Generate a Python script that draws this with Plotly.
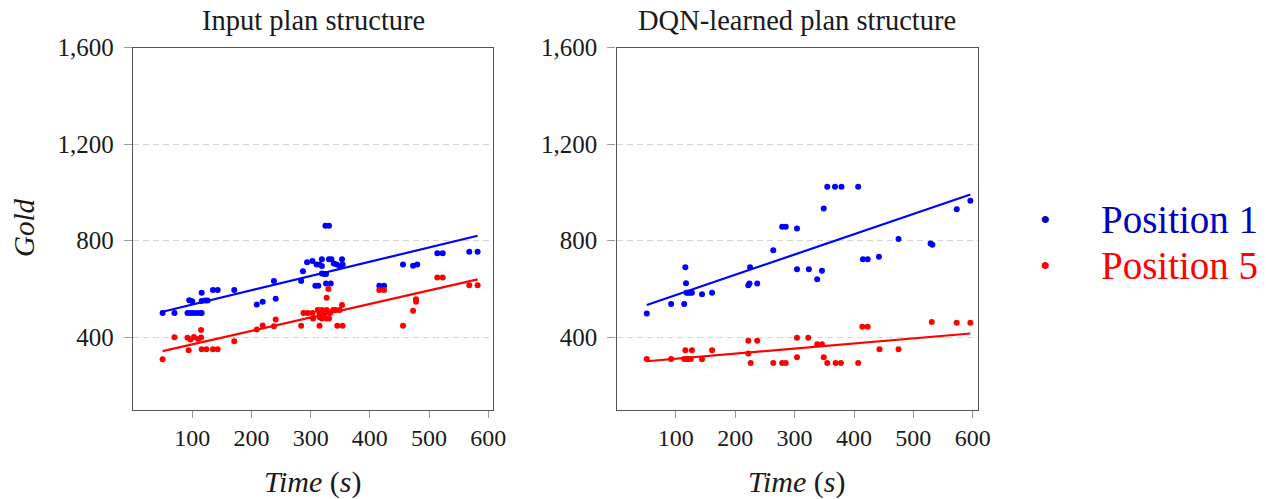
import plotly.graph_objects as go

# ---------------- data ----------------
# Left panel: Input plan structure
in_p1_t = [50, 70, 92, 97, 102, 108, 114, 116, 95, 100, 116, 122, 126, 116, 135, 143, 171,
           209, 219, 238, 241, 284, 287, 294, 303, 310, 315, 319, 319, 319, 323, 326, 308, 313,
           326, 334, 325, 331, 331, 335, 339, 344, 349, 354, 353,
           416, 424, 456, 473, 480, 514, 523, 568, 582]
in_p1_v = [500, 500, 500, 500, 500, 500, 500, 500, 553, 549, 550, 552, 552, 584, 595, 595, 595,
           535, 546, 632, 559, 632, 673, 710, 715, 701, 701, 723, 695, 664, 661, 661, 613, 613,
           622, 622, 861, 861, 723, 723, 705, 701, 695, 701, 723,
           613, 613, 701, 696, 701, 747, 747, 754, 754]

in_p5_t = [50, 70, 92, 97, 103, 110, 115, 115, 94, 116, 124, 135, 143, 171, 209, 219, 238, 241,
           284, 288, 295, 303, 312, 315, 319, 323, 327, 333, 338, 342, 349, 353,
           304, 315, 319, 323, 327, 331, 315, 345, 354, 330, 327,
           416, 424, 456, 473, 478, 478, 514, 523, 568, 582]
in_p5_v = [308, 399, 397, 390, 400, 392, 398, 429, 346, 350, 350, 350, 350, 383, 432, 448, 445, 473,
           447, 500, 500, 500, 512, 500, 512, 500, 512, 500, 512, 512, 512, 533,
           477, 482, 477, 482, 477, 477, 447, 447, 447, 599, 563,
           595, 595, 447, 509, 557, 546, 647, 647, 615, 615]

# Right panel: DQN-learned plan structure
dqn_p1_t = [51, 92, 114, 116, 117, 118, 121, 124, 127, 144, 161, 222, 224, 225, 237, 264, 279, 285,
            304, 304, 324, 338, 346, 349, 355, 368, 379, 407, 415, 423, 442, 475, 529, 532, 573, 596]
dqn_p1_v = [498, 537, 537, 689, 623, 584, 584, 584, 584, 578, 584, 615, 622, 689, 622, 760, 857, 857,
            850, 681, 681, 640, 675, 933, 1023, 1023, 1023, 1023, 723, 723, 733, 806, 788, 783, 930, 965]

dqn_p5_t = [51, 92, 114, 118, 121, 125, 116, 127, 144, 161, 222, 237, 222, 226, 264, 279, 285,
            304, 304, 323, 338, 346, 349, 355, 369, 378, 407, 414, 423, 443, 475, 531, 573, 596]
dqn_p5_v = [309, 309, 309, 309, 309, 309, 346, 346, 308, 346, 385, 385, 332, 293, 293, 293, 293,
            397, 316, 397, 370, 370, 316, 293, 293, 293, 293, 443, 443, 350, 350, 463, 459, 459]

# Fitted trend lines (end points)
in_fit_t = [50, 582]
in_fit_p1 = [505, 820]
in_fit_p5 = [342, 639]
dqn_fit_t = [51, 596]
dqn_fit_p1 = [533, 991]
dqn_fit_p5 = [300, 415]

panel_titles = ["Input plan structure", "DQN-learned plan structure"]
series_names = ["Position 1", "Position 5"]
x_ticks = [100, 200, 300, 400, 500, 600]
y_ticks = [400, 800, 1200, 1600]

BLUE = "#0000FF"
RED = "#FF0000"
FONT = "Liberation Serif"

fig = go.Figure()

panels = [
    ("x", "y", in_p1_t, in_p1_v, in_p5_t, in_p5_v, in_fit_t, in_fit_p1, in_fit_p5),
    ("x2", "y2", dqn_p1_t, dqn_p1_v, dqn_p5_t, dqn_p5_v, dqn_fit_t, dqn_fit_p1, dqn_fit_p5),
]
for xa, ya, t1, v1, t5, v5, ft, f1, f5 in panels:
    fig.add_trace(go.Scatter(x=t1, y=v1, mode="markers", xaxis=xa, yaxis=ya,
                             marker=dict(color=BLUE, size=6), name=series_names[0], showlegend=False))
    fig.add_trace(go.Scatter(x=t5, y=v5, mode="markers", xaxis=xa, yaxis=ya,
                             marker=dict(color=RED, size=6), name=series_names[1], showlegend=False))
    fig.add_trace(go.Scatter(x=ft, y=f1, mode="lines", xaxis=xa, yaxis=ya,
                             line=dict(color=BLUE, width=2.2), showlegend=False))
    fig.add_trace(go.Scatter(x=ft, y=f5, mode="lines", xaxis=xa, yaxis=ya,
                             line=dict(color=RED, width=2.2), showlegend=False))

axis_common_x = dict(range=[0, 608], tickvals=x_ticks, ticks="outside", ticklen=7, tickcolor="#999",
                     showgrid=False, zeroline=False, showline=True, linecolor="#555", linewidth=1.3,
                     mirror=True, automargin=False,
                     tickfont=dict(family=FONT, size=24, color="#1a1a1a"))
axis_common_y = dict(range=[100, 1600], tickvals=y_ticks, tickformat=",d", ticks="outside", ticklen=8,
                     tickcolor="#999", showgrid=True, gridcolor="#d4d4d4", griddash="6px,4px",
                     gridwidth=1.3, zeroline=False, showline=True, linecolor="#555", linewidth=1.3,
                     mirror=True, automargin=False, ticklabelstandoff=5,
                     tickfont=dict(family=FONT, size=25, color="#1a1a1a"))

y_dom = [1 - 409.5 / 499, 1 - 47.5 / 499]
fig.update_layout(
    template="none",
    width=1266, height=499,
    margin=dict(l=0, r=0, t=0, b=0, autoexpand=False),
    paper_bgcolor="white", plot_bgcolor="white",
    xaxis=dict(domain=[133 / 1266, 493 / 1266], anchor="y", **axis_common_x),
    yaxis=dict(domain=y_dom, anchor="x", **axis_common_y),
    xaxis2=dict(domain=[616.5 / 1266, 977.5 / 1266], anchor="y2", **axis_common_x),
    yaxis2=dict(domain=y_dom, anchor="x2", **axis_common_y),
)

ann = []
# panel titles
ann.append(dict(text=panel_titles[0], x=313 / 1266, y=1 - 20 / 499, xref="paper", yref="paper",
                showarrow=False, font=dict(family=FONT, size=28.5, color="#1a1a1a"),
                xanchor="center", yanchor="middle"))
ann.append(dict(text=panel_titles[1], x=797 / 1266, y=1 - 20 / 499, xref="paper", yref="paper",
                showarrow=False, font=dict(family=FONT, size=28.5, color="#1a1a1a"),
                xanchor="center", yanchor="middle"))
# x axis titles
for cx in (313, 797):
    ann.append(dict(text="<i>Time</i> (<i>s</i>)", x=cx / 1266, y=1 - 482 / 499, xref="paper",
                    yref="paper", showarrow=False, font=dict(family=FONT, size=30, color="#1a1a1a"),
                    xanchor="center", yanchor="middle"))
# y axis title
ann.append(dict(text="<i>Gold</i>", x=24 / 1266, y=1 - 228 / 499, xref="paper", yref="paper",
                showarrow=False, textangle=-90, font=dict(family=FONT, size=29, color="#1a1a1a"),
                xanchor="center", yanchor="middle"))
# legend
LEG_BLUE = "#0000C0"
for name, col, cy in ((series_names[0], LEG_BLUE, 219), (series_names[1], RED, 265)):
    ann.append(dict(text="•", x=1045 / 1266, y=1 - cy / 499, xref="paper", yref="paper",
                    showarrow=False, font=dict(family=FONT, size=30, color=col),
                    xanchor="center", yanchor="middle"))
    ann.append(dict(text=name, x=1099 / 1266, y=1 - cy / 499, xref="paper", yref="paper",
                    showarrow=False, font=dict(family=FONT, size=39, color=col),
                    xanchor="left", yanchor="middle"))
fig.update_layout(annotations=ann)

fig.write_html(
    "out.html",
    config={"displayModeBar": False},
    post_script="document.body.style.margin='0px';document.body.style.overflow='hidden';",
)
